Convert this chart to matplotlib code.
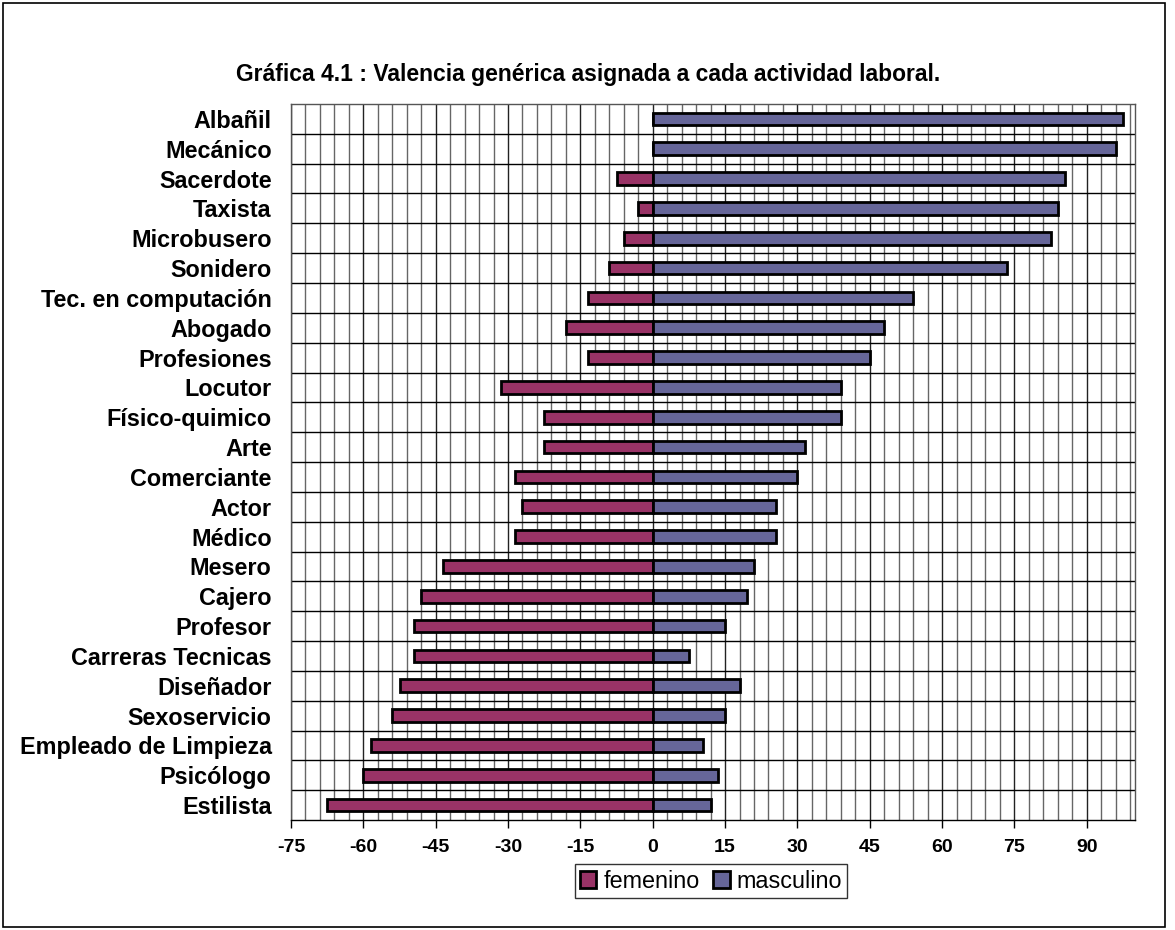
import numpy as np
import matplotlib.pyplot as plt
from matplotlib.patches import Rectangle
from matplotlib.ticker import MultipleLocator

plt.rcParams['font.family'] = ['Liberation Sans', 'DejaVu Sans']

categorias = ["Albañil", "Mecánico", "Sacerdote", "Taxista", "Microbusero",
              "Sonidero", "Tec. en computación", "Abogado", "Profesiones",
              "Locutor", "Físico-quimico", "Arte", "Comerciante", "Actor",
              "Médico", "Mesero", "Cajero", "Profesor", "Carreras Tecnicas",
              "Diseñador", "Sexoservicio", "Empleado de Limpieza", "Psicólogo",
              "Estilista"]
femenino = [0, 0, -7.5, -3, -6, -9, -13.5, -18, -13.5, -31.5, -22.5, -22.5,
            -28.5, -27, -28.5, -43.5, -48, -49.5, -49.5, -52.5, -54, -58.5,
            -60, -67.5]
masculino = [97.5, 96, 85.5, 84, 82.5, 73.5, 54, 48, 45, 39, 39, 31.5,
             30, 25.5, 25.5, 21, 19.5, 15, 7.5, 18, 15, 10.5, 13.5, 12]
ticks_x = list(range(-75, 91, 15))

fig = plt.figure(figsize=(11.75, 9.3), dpi=100)
ax = fig.add_axes([291 / 1175, 1 - 820 / 930, (1135 - 291) / 1175, (820 - 104) / 930])

y = np.arange(len(categorias))
ax.barh(y, femenino, height=0.43, color="#993366", edgecolor="black",
        linewidth=2, label="femenino", zorder=3)
ax.barh(y, masculino, height=0.43, color="#666699", edgecolor="black",
        linewidth=2, label="masculino", zorder=3)

ax.set_xlim(-75, 100)
ax.set_ylim(len(categorias) - 0.5, -0.5)
ax.set_xticks(ticks_x)
ax.set_xticklabels([str(t) for t in ticks_x], fontsize=14, fontweight="bold")
ax.xaxis.set_minor_locator(MultipleLocator(3))
ax.tick_params(axis="x", which="major", length=6, width=1, pad=8)
ax.tick_params(axis="x", which="minor", length=0)

ax.set_yticks(y)
ax.set_yticklabels(categorias, fontsize=16.8, fontweight="bold")
ax.tick_params(axis="y", length=0, pad=14)

# gridlines: vertical every 3, horizontal between categories
for xv in np.arange(-75, 100, 3):
    ax.axvline(xv, color="#222222" if xv % 15 == 0 else "#666666",
               linewidth=1, zorder=1)
for yv in np.arange(0.5, len(categorias) - 0.5, 1):
    ax.axhline(yv, color="black", linewidth=1, zorder=1)

for s in ax.spines.values():
    s.set_color("#555555")
    s.set_linewidth(1)
ax.spines["bottom"].set_color("black")

fig.text(588 / 1175, 1 - 75 / 930,
         "Gráfica 4.1 : Valencia genérica asignada a cada actividad laboral.",
         ha="center", va="center", fontsize=16.5, fontweight="bold")

leg = fig.legend(loc="center", bbox_to_anchor=(711 / 1175, 1 - 881 / 930),
                 ncol=2, fontsize=16.8, frameon=True, fancybox=False,
                 edgecolor="black", handlelength=0.7, handleheight=0.7,
                 handletextpad=0.3, columnspacing=0.6, borderpad=0.22)
leg.get_frame().set_linewidth(1)

fig.patches.append(Rectangle((3 / 1175, 3 / 930), 1162 / 1175, 924 / 930,
                             transform=fig.transFigure, fill=False,
                             edgecolor="black", linewidth=1.2))

fig.savefig("out.png", dpi=100)
